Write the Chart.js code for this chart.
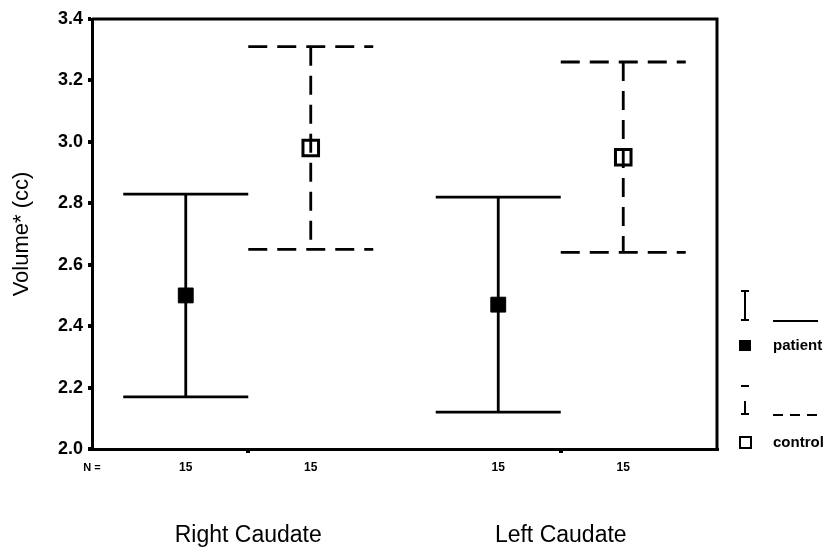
<!DOCTYPE html>
<html>
<head>
<meta charset="utf-8">
<script src="https://cdn.jsdelivr.net/npm/chart.js@4.4.0/dist/chart.umd.min.js"></script>
<style>
  html, body { margin: 0; padding: 0; background: #fff; }
  #wrap { width: 833px; height: 547px; }
</style>
</head>
<body>
<div id="wrap"><canvas id="caudateChart" width="833" height="547"></canvas></div>
<script>
// Data
const groups = ['Right Caudate', 'Left Caudate'];
const patientN = [15, 15];
const controlN = [15, 15];
const patientMean = [2.50, 2.47];
const patientLow = [2.17, 2.12];
const patientHigh = [2.83, 2.82];
const controlMean = [2.98, 2.95];
const controlLow = [2.65, 2.64];
const controlHigh = [3.31, 3.26];
const yTickValues = [2.0, 2.2, 2.4, 2.6, 2.8, 3.0, 3.2, 3.4];

const FONT = 'Arial, "Liberation Sans", Helvetica, sans-serif';
const clusterOffset = 0.2;   // patient left, control right of group centre
const capHalf = 0.2;         // caps span the cluster width

const patientX = groups.map((g, i) => i + 1 - clusterOffset);
const controlX = groups.map((g, i) => i + 1 + clusterOffset);

// error bar as one broken line: top cap, stem, bottom cap
function errorBarPoints(xs, lows, highs) {
  const pts = [];
  xs.forEach((x, i) => {
    pts.push({x: x - capHalf, y: highs[i]}, {x: x + capHalf, y: highs[i]}, {x: x, y: null});
    pts.push({x: x, y: highs[i]}, {x: x, y: lows[i]}, {x: x, y: null});
    pts.push({x: x - capHalf, y: lows[i]}, {x: x + capHalf, y: lows[i]}, {x: x, y: null});
  });
  return pts;
}

function nLabelFor(v) {
  for (let i = 0; i < groups.length; i++) {
    if (Math.abs(v - patientX[i]) < 1e-6) return String(patientN[i]);
    if (Math.abs(v - controlX[i]) < 1e-6) return String(controlN[i]);
  }
  return '';
}

const xTickValues = [];
groups.forEach((g, i) => { xTickValues.push(patientX[i], i + 1, controlX[i]); });

// frame, N row, group names and the legend box on the right
const extrasPlugin = {
  id: 'extras',
  afterDraw(chart) {
    const ctx = chart.ctx;
    const area = chart.chartArea;
    const x = chart.scales.x;
    ctx.save();
    ctx.strokeStyle = '#000';
    ctx.lineWidth = 3;
    ctx.beginPath();
    ctx.moveTo(area.left, area.top);
    ctx.lineTo(area.right, area.top);
    ctx.lineTo(area.right, area.bottom);
    ctx.stroke();

    ctx.fillStyle = '#000';
    ctx.textBaseline = 'middle';
    ctx.textAlign = 'center';
    ctx.font = 'bold 11px ' + FONT;
    ctx.fillText('N =', area.left, area.bottom + 19);

    ctx.font = '23px ' + FONT;
    groups.forEach((g, i) => {
      ctx.fillText(g, x.getPixelForValue(i + 1), area.bottom + 87);
    });

    // legend
    const ix = area.right + 28;
    const lx0 = area.right + 56;
    const lx1 = area.right + 101;
    ctx.lineWidth = 2;
    ctx.setLineDash([]);
    ctx.beginPath();
    ctx.moveTo(ix, 291); ctx.lineTo(ix, 320);
    ctx.moveTo(ix - 4, 291); ctx.lineTo(ix + 4, 291);
    ctx.moveTo(ix - 4, 320); ctx.lineTo(ix + 4, 320);
    ctx.moveTo(lx0, 321); ctx.lineTo(lx1, 321);
    ctx.stroke();
    ctx.fillRect(ix - 6, 340, 12, 11);

    ctx.beginPath();
    ctx.moveTo(ix - 4, 386); ctx.lineTo(ix + 4, 386);
    ctx.moveTo(ix, 401); ctx.lineTo(ix, 414);
    ctx.moveTo(ix - 4, 414); ctx.lineTo(ix + 4, 414);
    ctx.stroke();
    ctx.setLineDash([10, 7]);
    ctx.beginPath();
    ctx.moveTo(lx0, 415); ctx.lineTo(lx1, 415);
    ctx.stroke();
    ctx.setLineDash([]);
    ctx.strokeRect(ix - 5, 437, 11, 11);

    ctx.textAlign = 'left';
    ctx.font = 'bold 15px ' + FONT;
    ctx.fillText('patient', lx0, 346);
    ctx.fillText('control', lx0, 443);
    ctx.restore();
  }
};

const chart = new Chart(document.getElementById('caudateChart'), {
  type: 'line',
  data: {
    datasets: [{
      label: 'patient',
      type: 'scatter',
      data: patientX.map((x, i) => ({x: x, y: patientMean[i]})),
      pointStyle: 'rect',
      pointRadius: 10.5,
      pointBackgroundColor: '#000',
      pointBorderColor: '#000',
      pointBorderWidth: 1
    }, {
      label: 'control',
      type: 'scatter',
      data: controlX.map((x, i) => ({x: x, y: controlMean[i]})),
      pointStyle: 'rect',
      pointRadius: 11,
      pointBackgroundColor: 'rgba(0,0,0,0)',
      pointBorderColor: '#000',
      pointBorderWidth: 3
    }, {
      label: 'patient CI',
      data: errorBarPoints(patientX, patientLow, patientHigh),
      borderColor: '#000',
      borderWidth: 2.8,
      pointRadius: 0,
      spanGaps: false,
      fill: false
    }, {
      label: 'control CI',
      data: errorBarPoints(controlX, controlLow, controlHigh),
      borderColor: '#000',
      borderWidth: 2.8,
      borderDash: [19, 10],
      pointRadius: 0,
      spanGaps: false,
      fill: false
    }]
  },
  options: {
    responsive: false,
    animation: false,
    events: [],
    layout: { padding: { left: 0, right: 116, top: 19, bottom: 0 } },
    plugins: {
      legend: { display: false },
      tooltip: { enabled: false }
    },
    scales: {
      x: {
        type: 'linear',
        min: 0.5,
        max: 2.5,
        border: { color: '#000', width: 3 },
        grid: {
          drawOnChartArea: false,
          tickLength: 4,
          lineWidth: 4,
          tickColor: (c) => (c.tick && Number.isInteger(c.tick.value)) ? '#000' : 'rgba(0,0,0,0)'
        },
        afterBuildTicks(scale) {
          scale.ticks = xTickValues.map(v => ({value: v}));
        },
        afterFit(scale) { scale.height = 98; },
        ticks: {
          autoSkip: false,
          maxRotation: 0,
          padding: 7,
          color: '#000',
          font: { family: FONT, size: 12, weight: 'bold' },
          callback: (v) => nLabelFor(v)
        }
      },
      y: {
        min: 2.0,
        max: 3.4,
        border: { color: '#000', width: 3 },
        grid: { drawOnChartArea: false, tickLength: 4, lineWidth: 4, color: '#000' },
        afterBuildTicks(scale) {
          scale.ticks = yTickValues.map(v => ({value: v}));
        },
        afterFit(scale) { scale.width = 92; },
        ticks: {
          padding: 5,
          color: '#000',
          font: { family: FONT, size: 18, weight: 'bold' },
          callback: (v) => v.toFixed(1)
        },
        title: {
          display: true,
          text: 'Volume* (cc)',
          color: '#000',
          font: { family: FONT, size: 22 },
          padding: { top: 9, bottom: 0 }
        }
      }
    }
  },
  plugins: [extrasPlugin]
});
</script>
</body>
</html>
